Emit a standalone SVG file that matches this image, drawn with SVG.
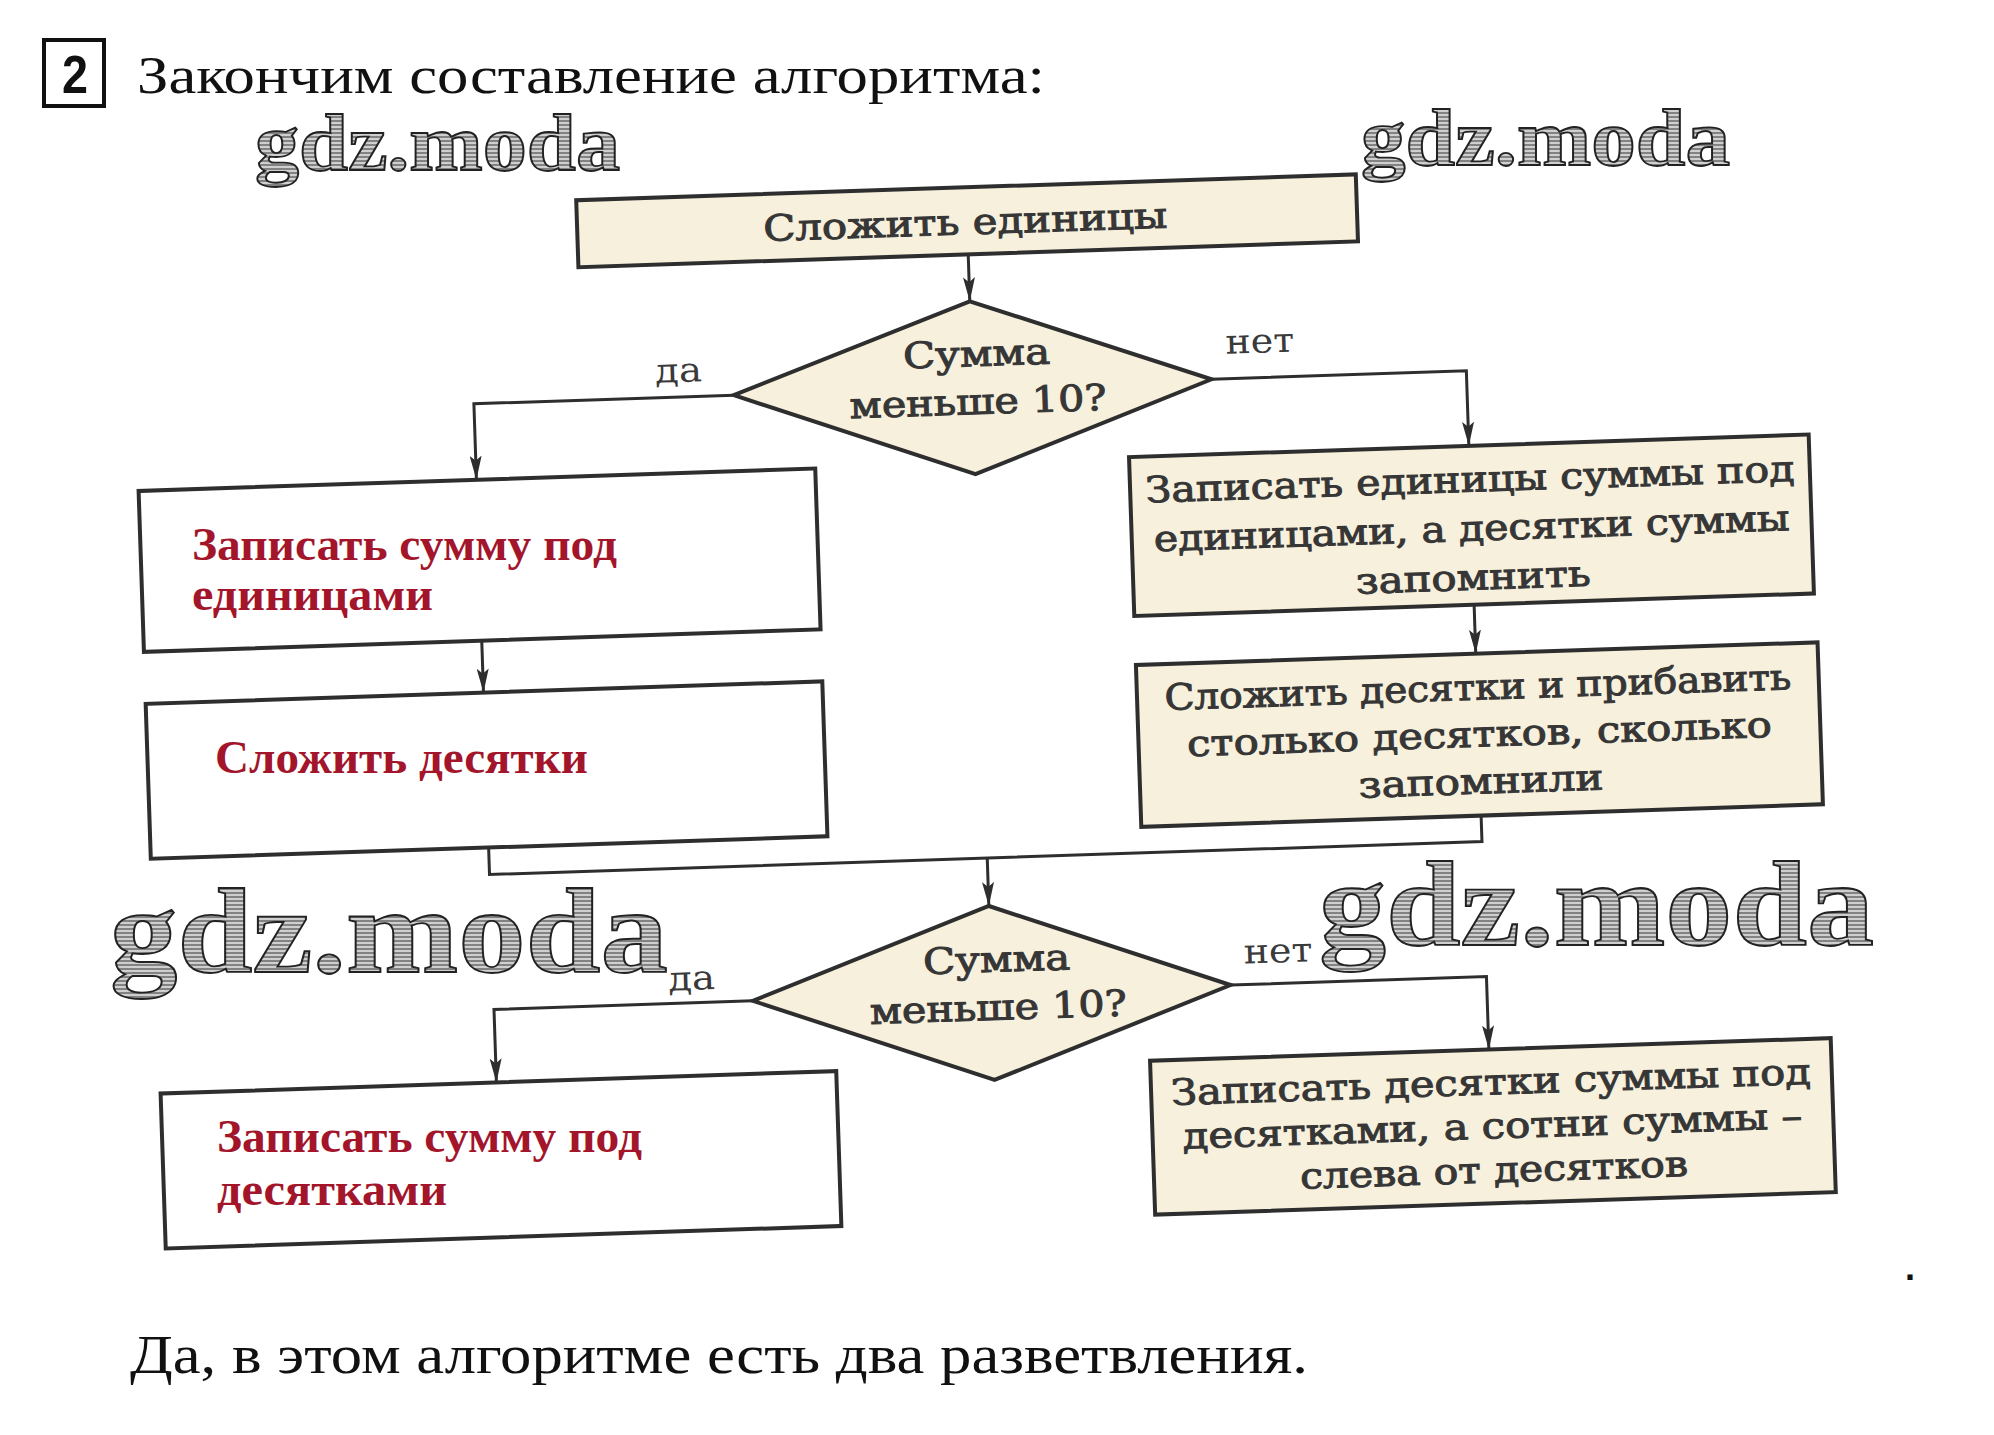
<svg xmlns="http://www.w3.org/2000/svg" width="1994" height="1435" viewBox="0 0 1994 1435">
<style>
.box{fill:#f6f0dc;stroke:#2e2e2e;stroke-width:4}
.wbox{fill:#ffffff;stroke:#2e2e2e;stroke-width:4}
.pt{font-family:"DejaVu Serif",serif;font-size:36px;fill:#363636;stroke:#363636;stroke-width:1;text-anchor:middle}
.lbl{font-family:"DejaVu Serif",serif;font-size:34px;fill:#3a3a3a}
.red{font-family:"Liberation Serif",serif;font-weight:bold;font-size:46px;fill:#a3152b}
.doc{font-family:"Liberation Serif",serif;fill:#111}
.wm{font-family:"Liberation Serif",serif;font-weight:bold;fill:url(#hatch);stroke:#222;stroke-width:1.8}
.conn{fill:none;stroke:#2e2e2e;stroke-width:3}
</style>
<defs>
<pattern id="hatch" patternUnits="userSpaceOnUse" width="4" height="4">
<rect width="4" height="4" fill="#cfcfcf"/>
<line x1="0" y1="1" x2="4" y2="1" stroke="#606060" stroke-width="1.4"/>
</pattern>
<marker id="arr" markerUnits="userSpaceOnUse" viewBox="0 0 24 12" markerWidth="24" markerHeight="12" refX="24" refY="6" orient="auto">
<path d="M0,0 L24,6 L0,12 L5,6 z" fill="#2e2e2e"/>
</marker>
</defs>
<rect width="1994" height="1435" fill="#ffffff"/>

<g id="header">
<rect x="44" y="40" width="60" height="66" fill="none" stroke="#111" stroke-width="4"/>
<text x="75" y="93" text-anchor="middle" font-family="Liberation Sans, sans-serif" font-weight="bold" font-size="54" textLength="26" lengthAdjust="spacingAndGlyphs" fill="#111">2</text>
<text class="doc" x="137" y="93" font-size="52" textLength="908" lengthAdjust="spacingAndGlyphs">Закончим составление алгоритма:</text>
</g>

<g id="connectors" transform="rotate(-1.9 985 700)">
<path class="conn" d="M983,254 L983,301" marker-end="url(#arr)"/>
<path class="conn" d="M744,387 L484,387 L484,463" marker-end="url(#arr)"/>
<path class="conn" d="M1222,387 L1477,387 L1477,462" marker-end="url(#arr)"/>
<path class="conn" d="M484,624 L484,676" marker-end="url(#arr)"/>
<path class="conn" d="M1477,621 L1477,670" marker-end="url(#arr)"/>
<path class="conn" d="M484,831 L484,858 L1477,858 L1477,832"/>
<path class="conn" d="M982,858 L982,906" marker-end="url(#arr)"/>
<path class="conn" d="M743,993 L484,993 L484,1066" marker-end="url(#arr)"/>
<path class="conn" d="M1221,993 L1477,993 L1477,1066" marker-end="url(#arr)"/>
<text class="lbl" x="666" y="372" textLength="47" lengthAdjust="spacingAndGlyphs">да</text>
<text class="lbl" x="1237" y="362" textLength="69" lengthAdjust="spacingAndGlyphs">нет</text>
<text class="lbl" x="659" y="980" textLength="47" lengthAdjust="spacingAndGlyphs">да</text>
<text class="lbl" x="1235" y="972" textLength="69" lengthAdjust="spacingAndGlyphs">нет</text>
</g>

<g id="n-start" transform="rotate(-1.9 985 700)">
<rect class="box" x="593" y="187" width="780" height="67"/>
<text class="pt" x="981" y="234" font-size="40" textLength="404" lengthAdjust="spacingAndGlyphs">Сложить единицы</text>
</g>

<g id="n-cond1" transform="rotate(-1.9 985 700)">
<polygon class="box" points="744,387 983,301 1222,387 983,474"/>
<text class="pt" x="988" y="366" font-size="38" textLength="147" lengthAdjust="spacingAndGlyphs">Сумма</text>
<text class="pt" x="988" y="414" font-size="38" textLength="257" lengthAdjust="spacingAndGlyphs">меньше 10?</text>
</g>

<g id="n-left1">
<rect class="wbox" x="146" y="463" width="677" height="161" transform="rotate(-1.9 985 700)"/>
<text class="red" x="192" y="560" textLength="425" lengthAdjust="spacingAndGlyphs">Записать сумму под</text>
<text class="red" x="192" y="610" textLength="241" lengthAdjust="spacingAndGlyphs">единицами</text>
</g>

<g id="n-left2">
<rect class="wbox" x="146" y="676" width="677" height="155" transform="rotate(-1.9 985 700)"/>
<text class="red" x="215" y="773" textLength="373" lengthAdjust="spacingAndGlyphs">Сложить десятки</text>
</g>

<g id="n-right1" transform="rotate(-1.9 985 700)">
<rect class="box" x="1137" y="462" width="680" height="159"/>
<text class="pt" x="1477" y="508" textLength="649" lengthAdjust="spacingAndGlyphs">Записать единицы суммы под</text>
<text class="pt" x="1477" y="557" textLength="636" lengthAdjust="spacingAndGlyphs">единицами, а десятки суммы</text>
<text class="pt" x="1477" y="606" textLength="235" lengthAdjust="spacingAndGlyphs">запомнить</text>
</g>

<g id="n-right2" transform="rotate(-1.9 985 700)">
<rect class="box" x="1137" y="670" width="682" height="162"/>
<text class="pt" x="1478" y="716" textLength="627" lengthAdjust="spacingAndGlyphs">Сложить десятки и прибавить</text>
<text class="pt" x="1478" y="763" textLength="585" lengthAdjust="spacingAndGlyphs">столько десятков, сколько</text>
<text class="pt" x="1478" y="810" textLength="245" lengthAdjust="spacingAndGlyphs">запомнили</text>
</g>

<g id="n-cond2" transform="rotate(-1.9 985 700)">
<polygon class="box" points="743,993 982,906 1221,993 982,1080"/>
<text class="pt" x="988" y="972" font-size="38" textLength="147" lengthAdjust="spacingAndGlyphs">Сумма</text>
<text class="pt" x="988" y="1020" font-size="38" textLength="257" lengthAdjust="spacingAndGlyphs">меньше 10?</text>
</g>

<g id="n-left3">
<rect class="wbox" x="148" y="1066" width="676" height="155" transform="rotate(-1.9 985 700)"/>
<text class="red" x="217" y="1152" textLength="425" lengthAdjust="spacingAndGlyphs">Записать сумму под</text>
<text class="red" x="217" y="1205" textLength="230" lengthAdjust="spacingAndGlyphs">десятками</text>
</g>

<g id="n-right3" transform="rotate(-1.9 985 700)">
<rect class="box" x="1138" y="1066" width="681" height="154"/>
<text class="pt" x="1478" y="1111" textLength="640" lengthAdjust="spacingAndGlyphs">Записать десятки суммы под</text>
<text class="pt" x="1478" y="1155" textLength="620" lengthAdjust="spacingAndGlyphs">десятками, а сотни суммы –</text>
<text class="pt" x="1478" y="1199" textLength="388" lengthAdjust="spacingAndGlyphs">слева от десятков</text>
</g>

<g id="watermarks">
<text class="wm" x="255" y="170" font-size="80" textLength="365" lengthAdjust="spacingAndGlyphs">gdz.moda</text>
<text class="wm" x="1361" y="165" font-size="80" textLength="369" lengthAdjust="spacingAndGlyphs">gdz.moda</text>
<text class="wm" x="110" y="972" font-size="120" textLength="558" lengthAdjust="spacingAndGlyphs">gdz.moda</text>
<text class="wm" x="1319" y="945" font-size="120" textLength="555" lengthAdjust="spacingAndGlyphs">gdz.moda</text>
</g>

<g id="footer">
<text x="1905" y="1280" font-family="Liberation Sans, sans-serif" font-weight="bold" font-size="36" fill="#111">.</text>
<text class="doc" x="130" y="1373" font-size="54" textLength="1178" lengthAdjust="spacingAndGlyphs">Да, в этом алгоритме есть два разветвления.</text>
</g>
</svg>
